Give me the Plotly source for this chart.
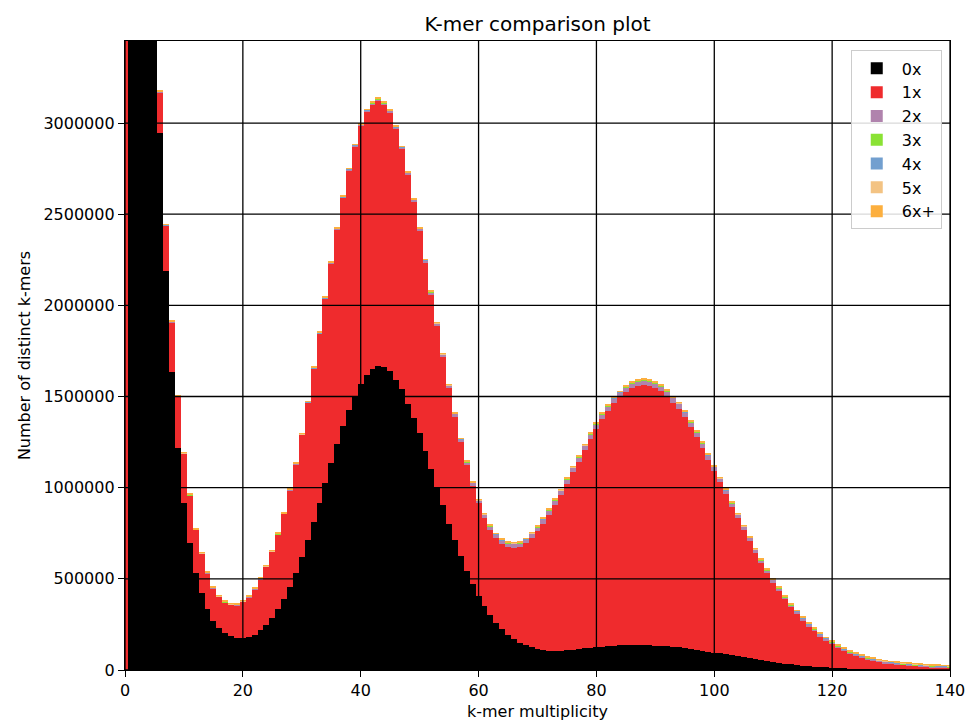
import plotly.graph_objects as go

# k-mer multiplicity (bar centres)
MULT = list(range(0, 141))

# Values in thousands of distinct k-mers
ZERO_X = [
    0, 12000, 9000, 6500, 5000, 3900, 2947, 2186, 1637, 1220,
    918, 699, 534, 421, 335, 271, 232, 204, 186, 176,
    174, 180, 193, 218, 247, 285, 333, 388, 456, 531,
    619, 714, 811, 917, 1025, 1134, 1239, 1339, 1427, 1500,
    1570, 1619, 1652, 1668, 1663, 1640, 1592, 1541, 1460, 1383,
    1299, 1202, 1105, 1004, 906, 803, 712, 626, 543, 470,
    407, 349, 302, 256, 223, 192, 170, 150, 137, 125,
    115, 110, 106, 104, 106, 110, 112, 117, 119, 123,
    126, 128, 131, 132, 135, 136, 137, 137, 137, 136,
    134, 132, 130, 128, 125, 121, 117, 112, 106, 101,
    96, 91, 86, 82, 78, 73, 68, 62, 56, 50,
    45, 40, 35, 31, 27, 24, 21, 18, 16, 14,
    12, 10, 9, 8, 7, 6, 5, 5, 4, 4,
    3, 3, 3, 2, 2, 2, 2, 2, 2, 1,
    1,
]

ONE_X = [
    5000, 300, 300, 300, 280, 250, 222, 251, 271, 278,
    268, 258, 234, 216, 196, 177, 169, 166, 171, 180,
    200, 220, 250, 281, 319, 363, 410, 468, 530, 598,
    671, 751, 841, 927, 1011, 1097, 1178, 1250, 1315, 1374,
    1417, 1444, 1450, 1456, 1439, 1420, 1374, 1315, 1255, 1184,
    1109, 1031, 954, 883, 811, 744, 677, 623, 581, 541,
    507, 483, 466, 467, 468, 483, 501, 524, 557, 601,
    647, 691, 745, 802, 853, 911, 973, 1026, 1087, 1145,
    1197, 1248, 1288, 1330, 1360, 1389, 1409, 1420, 1425, 1422,
    1413, 1397, 1373, 1337, 1309, 1265, 1218, 1168, 1114, 1052,
    994, 939, 879, 812, 754, 693, 640, 582, 531, 482,
    434, 396, 353, 313, 282, 247, 220, 196, 170, 150,
    131, 115, 98, 84, 72, 62, 54, 46, 40, 34,
    31, 28, 25, 23, 20, 18, 16, 14, 12, 12,
    11,
]

TWO_X = [
    1, 1, 1, 1, 1, 1, 2, 2, 2, 2,
    2, 2, 2, 2, 2, 2, 2, 2, 2, 2,
    2, 2, 2, 2, 2, 2, 2, 2, 2, 2,
    2, 3, 3, 3, 3, 3, 4, 4, 4, 4,
    4, 7, 7, 7, 7, 7, 11, 11, 11, 11,
    11, 14, 14, 14, 14, 14, 16, 16, 16, 16,
    16, 20, 20, 20, 20, 20, 22, 22, 22, 22,
    22, 25, 25, 25, 25, 25, 25, 25, 25, 25,
    25, 27, 27, 27, 27, 27, 27, 27, 27, 27,
    27, 27, 27, 27, 27, 27, 24, 24, 24, 24,
    24, 20, 20, 20, 20, 20, 16, 16, 16, 16,
    16, 12, 12, 12, 12, 12, 9, 9, 9, 9,
    9, 6, 6, 6, 6, 6, 6, 6, 6, 6,
    6, 4, 4, 4, 4, 4, 4, 4, 4, 4,
    4,
]

THREE_X = [
    1, 1, 1, 1, 1, 1, 1, 1, 1, 1,
    1, 1, 1, 1, 1, 1, 1, 1, 1, 1,
    1, 1, 1, 1, 1, 1, 1, 1, 1, 1,
    1, 1, 1, 1, 1, 1, 1, 1, 1, 1,
    1, 1, 1, 1, 1, 1, 1, 1, 1, 1,
    1, 1, 1, 1, 1, 1, 1, 1, 1, 1,
    1, 2, 2, 2, 2, 2, 2, 2, 2, 2,
    2, 2, 2, 2, 2, 2, 2, 2, 2, 2,
    2, 2, 2, 2, 2, 2, 2, 2, 2, 2,
    2, 2, 2, 2, 2, 2, 2, 2, 2, 2,
    2, 2, 2, 2, 2, 2, 2, 2, 2, 2,
    2, 2, 2, 2, 2, 2, 2, 2, 2, 2,
    2, 2, 2, 2, 2, 2, 2, 2, 2, 2,
    2, 3, 3, 3, 3, 3, 3, 3, 3, 3,
    3,
]

FOUR_X = [
    1, 1, 1, 1, 1, 1, 1, 1, 1, 1,
    1, 1, 1, 1, 1, 1, 1, 1, 1, 1,
    1, 1, 1, 1, 1, 1, 1, 1, 1, 1,
    1, 1, 1, 1, 1, 1, 1, 1, 1, 1,
    1, 1, 1, 1, 1, 1, 1, 1, 1, 1,
    1, 1, 1, 1, 1, 1, 1, 1, 1, 1,
    1, 1, 1, 1, 1, 1, 1, 1, 1, 1,
    1, 1, 1, 1, 1, 1, 1, 1, 1, 1,
    1, 1, 1, 1, 1, 1, 1, 1, 1, 1,
    1, 1, 1, 1, 1, 1, 1, 1, 1, 1,
    1, 1, 1, 1, 1, 1, 1, 1, 1, 1,
    1, 1, 1, 1, 1, 1, 1, 1, 1, 1,
    1, 2, 2, 2, 2, 2, 2, 2, 2, 2,
    2, 2, 2, 2, 2, 2, 2, 2, 2, 2,
    2,
]

FIVE_X = [
    1, 1, 1, 1, 1, 1, 1, 1, 1, 1,
    1, 1, 1, 1, 1, 1, 1, 1, 1, 1,
    1, 1, 1, 1, 1, 1, 1, 1, 1, 1,
    1, 1, 1, 1, 1, 1, 1, 1, 1, 1,
    1, 1, 1, 1, 1, 1, 1, 1, 1, 1,
    1, 1, 1, 1, 1, 1, 1, 1, 1, 1,
    1, 1, 1, 1, 1, 1, 1, 1, 1, 1,
    1, 1, 1, 1, 1, 1, 1, 1, 1, 1,
    1, 1, 1, 1, 1, 1, 1, 1, 1, 1,
    1, 1, 1, 1, 1, 1, 1, 1, 1, 1,
    1, 1, 1, 1, 1, 1, 1, 1, 1, 1,
    1, 1, 1, 1, 1, 1, 1, 1, 1, 1,
    1, 2, 2, 2, 2, 2, 2, 2, 2, 2,
    2, 2, 2, 2, 2, 2, 2, 2, 2, 2,
    2,
]

SIX_X_PLUS = [
    4, 4, 4, 4, 4, 4, 4, 4, 4, 4,
    4, 4, 4, 4, 4, 4, 4, 4, 4, 4,
    4, 4, 4, 4, 4, 4, 4, 4, 4, 4,
    4, 4, 4, 4, 4, 4, 4, 4, 4, 4,
    4, 4, 4, 4, 4, 4, 4, 4, 4, 4,
    4, 4, 4, 4, 4, 4, 4, 4, 4, 4,
    4, 4, 4, 4, 4, 4, 4, 4, 4, 4,
    4, 4, 4, 4, 4, 4, 4, 4, 4, 4,
    4, 4, 4, 4, 4, 4, 4, 4, 4, 4,
    4, 4, 4, 4, 4, 4, 4, 4, 4, 4,
    4, 4, 4, 4, 4, 4, 4, 4, 4, 4,
    4, 4, 4, 4, 4, 4, 4, 4, 4, 4,
    4, 3, 3, 3, 3, 3, 3, 3, 3, 3,
    3, 3, 3, 3, 3, 3, 3, 3, 3, 3,
    3,
]

SERIES_NAMES = ["0x", "1x", "2x", "3x", "4x", "5x", "6x+"]
SERIES_COLORS = ["#000000", "#ef2b2d", "#b083ad", "#8ae234", "#729fcf", "#f3c383", "#fcaf3e"]
SERIES_VALUES = [ZERO_X, ONE_X, TWO_X, THREE_X, FOUR_X, FIVE_X, SIX_X_PLUS]

X_TICKS = [0, 20, 40, 60, 80, 100, 120, 140]
Y_TICKS = [0, 500000, 1000000, 1500000, 2000000, 2500000, 3000000]
X_RANGE = [0, 140]
Y_RANGE = [0, 3450000]

FONT = "DejaVu Sans"

fig = go.Figure()
for name, color, vals in zip(SERIES_NAMES, SERIES_COLORS, SERIES_VALUES):
    fig.add_trace(go.Bar(
        x=MULT,
        y=[v * 1000 for v in vals],
        name=name,
        width=1.0,
        marker=dict(color=color, line=dict(width=0)),
    ))

shapes = []
for xv in X_TICKS:
    shapes.append(dict(type="line", xref="x", yref="paper", x0=xv, x1=xv, y0=0, y1=1,
                       line=dict(color="black", width=1.3), layer="above"))
for yv in Y_TICKS:
    shapes.append(dict(type="line", xref="paper", yref="y", x0=0, x1=1, y0=yv, y1=yv,
                       line=dict(color="black", width=1.3), layer="above"))

fig.update_layout(
    width=969,
    height=725,
    margin=dict(l=125, r=19, t=41, b=55, autoexpand=False),
    paper_bgcolor="white",
    plot_bgcolor="white",
    barmode="stack",
    bargap=0,
    font=dict(family=FONT, size=16, color="black"),
    title=dict(text="K-mer comparison plot", x=0.5, xref="paper", xanchor="center",
               y=1 - 24 / 725, yref="container", yanchor="middle",
               font=dict(family=FONT, size=20, color="black")),
    shapes=shapes,
    showlegend=True,
    legend=dict(
        x=0.99, y=0.985, xanchor="right", yanchor="top",
        traceorder="normal",
        bgcolor="rgba(255,255,255,0.85)",
        bordercolor="#cccccc", borderwidth=1,
        font=dict(family=FONT, size=16, color="black"),
        itemwidth=40,
        tracegroupgap=0,
    ),
)

fig.update_xaxes(
    range=X_RANGE, automargin=False,
    tickmode="array", tickvals=X_TICKS, ticktext=[str(v) for v in X_TICKS],
    showgrid=False, zeroline=False,
    showline=True, linecolor="black", linewidth=1.3, mirror=True,
    ticks="outside", ticklen=6, tickwidth=1.2, tickcolor="black",
    tickfont=dict(family=FONT, size=16),
    title=dict(text="k-mer multiplicity", font=dict(family=FONT, size=16), standoff=6),
)
fig.update_yaxes(
    range=Y_RANGE, automargin=False,
    tickmode="array", tickvals=Y_TICKS, ticktext=[str(v) for v in Y_TICKS],
    showgrid=False, zeroline=False,
    showline=True, linecolor="black", linewidth=1.3, mirror=True,
    ticks="outside", ticklen=6, tickwidth=1.2, tickcolor="black",
    tickfont=dict(family=FONT, size=16),
    title=dict(text="Number of distinct k-mers", font=dict(family=FONT, size=16), standoff=8),
)

fig.write_html("out.html")
